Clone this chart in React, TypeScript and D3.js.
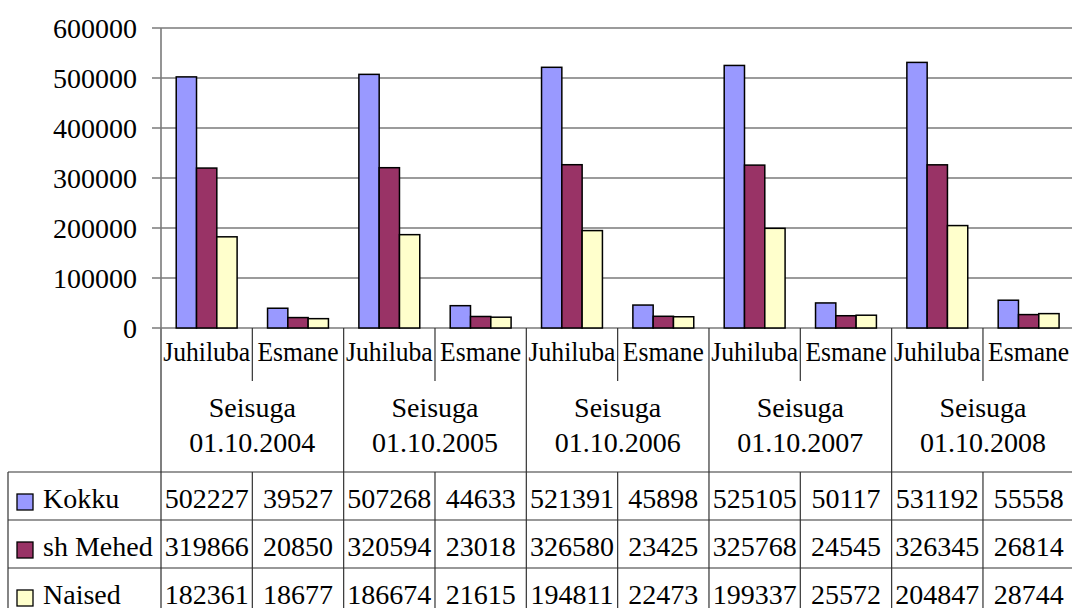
import React from "react";
import * as d3 from "d3";

// Categories and series
const years = ["01.10.2004", "01.10.2005", "01.10.2006", "01.10.2007", "01.10.2008"];
const subCategories = ["Juhiluba", "Esmane"];
const groupPrefix = "Seisuga";
const seriesNames = ["Kokku", "sh Mehed", "Naised"];
const seriesColors = ["#9999FF", "#993366", "#FFFFCC"];

// Values per series, ordered year by year: Juhiluba, Esmane
const kokku = [502227, 39527, 507268, 44633, 521391, 45898, 525105, 50117, 531192, 55558];
const mehed = [319866, 20850, 320594, 23018, 326580, 23425, 325768, 24545, 326345, 26814];
const naised = [182361, 18677, 186674, 21615, 194811, 22473, 199337, 25572, 204847, 28744];
const seriesValues = [kokku, mehed, naised];

const yTicks = [0, 100000, 200000, 300000, 400000, 500000, 600000];

const W = 1072;
const H = 608;
const FONT = "'Liberation Serif', 'Times New Roman', serif";

export default function App() {
  const plotLeft = 161;
  const plotRight = 1074.3;
  const plotTop = 28;
  const plotBottom = 328;

  const categories = years.flatMap((y) => subCategories.map((s) => `${y}|${s}`));

  const y = d3.scaleLinear().domain([0, 600000]).range([plotBottom, plotTop]);
  const x = d3.scaleBand<string>().domain(categories).range([plotLeft, plotRight]).padding(0);
  const step = x.step();
  const xs = d3
    .scaleBand<string>()
    .domain(seriesNames)
    .range([0, step])
    .paddingInner(0)
    .paddingOuter(0.75);

  const gridColor = "#7a7a7a";
  const lineColor = "#333";

  const catLabelY = 361;
  const innerDivBottom = 381;
  const seisugaY = 417;
  const dateY = 452;
  const tableTop = 472;
  const rowH = 48;
  const tableLeft = 8;

  const boundaries = d3.range(categories.length + 1).map((i) => plotLeft + i * step);
  const textStyle = { fontFamily: FONT, fontSize: 28 };

  return (
    <svg
      width={W}
      height={H}
      style={{ position: "absolute", left: 0, top: 0, background: "#fff", fontFamily: FONT }}
    >
      <rect x={0} y={0} width={W} height={H} fill="#fff" />

      {/* gridlines and y ticks */}
      {yTicks.map((t) => (
        <g key={t}>
          <line x1={152} x2={plotRight} y1={y(t)} y2={y(t)} stroke={gridColor} strokeWidth={1.6} />
          <text x={137} y={y(t) + 9.5} textAnchor="end" style={textStyle} fill="#000">
            {t}
          </text>
        </g>
      ))}

      {/* y axis line, continues down through the category band and table */}
      <line x1={plotLeft} x2={plotLeft} y1={plotTop} y2={H} stroke={gridColor} strokeWidth={1.6} />

      {/* bars */}
      {seriesValues.map((vals, si) =>
        vals.map((v, ci) => {
          const bx = (x(categories[ci]) as number) + (xs(seriesNames[si]) as number);
          return (
            <rect
              key={`${si}-${ci}`}
              x={bx}
              y={y(v)}
              width={xs.bandwidth()}
              height={plotBottom - y(v)}
              fill={seriesColors[si]}
              stroke="#000"
              strokeWidth={1.5}
            />
          );
        })
      )}

      {/* category dividers */}
      {boundaries.map((bx, i) => {
        const isGroup = i % subCategories.length === 0;
        return (
          <g key={`div-${i}`}>
            {isGroup ? (
              <line x1={bx} x2={bx} y1={plotBottom} y2={H} stroke={i === 0 ? gridColor : lineColor} strokeWidth={i === 0 ? 1.6 : 1.2} />
            ) : (
              <>
                <line x1={bx} x2={bx} y1={plotBottom} y2={innerDivBottom} stroke={lineColor} strokeWidth={1.2} />
                <line x1={bx} x2={bx} y1={tableTop} y2={H} stroke={lineColor} strokeWidth={1.2} />
              </>
            )}
          </g>
        );
      })}

      {/* sub-category labels */}
      {categories.map((c) => {
        const cx = (x(c) as number) + step / 2;
        const label = c.split("|")[1];
        return (
          <text
            key={`cl-${c}`}
            transform={`translate(${cx},${catLabelY}) scale(0.915,1)`}
            textAnchor="middle"
            style={textStyle}
            fill="#000"
          >
            {label}
          </text>
        );
      })}

      {/* group labels */}
      {years.map((yr, gi) => {
        const cx = plotLeft + gi * step * subCategories.length + step;
        return (
          <g key={`g-${yr}`}>
            <text x={cx} y={seisugaY} textAnchor="middle" style={textStyle} fill="#000">
              {groupPrefix}
            </text>
            <text x={cx} y={dateY} textAnchor="middle" style={textStyle} fill="#000">
              {yr}
            </text>
          </g>
        );
      })}

      {/* data table */}
      <line x1={tableLeft} x2={tableLeft} y1={tableTop} y2={H} stroke={lineColor} strokeWidth={1.2} />
      {seriesNames.map((name, si) => {
        const top = tableTop + si * rowH;
        return (
          <g key={`row-${name}`}>
            <line x1={tableLeft} x2={plotRight} y1={top} y2={top} stroke={lineColor} strokeWidth={1.2} />
            <rect x={17} y={top + 22} width={16} height={16} fill={seriesColors[si]} stroke="#000" strokeWidth={1.3} />
            <text x={43} y={top + 35.5} style={textStyle} fill="#000">
              {name}
            </text>
            {seriesValues[si].map((v, ci) => (
              <text
                key={`cell-${si}-${ci}`}
                x={(x(categories[ci]) as number) + step / 2}
                y={top + 35.5}
                textAnchor="middle"
                style={textStyle}
                fill="#000"
              >
                {v}
              </text>
            ))}
          </g>
        );
      })}
    </svg>
  );
}
